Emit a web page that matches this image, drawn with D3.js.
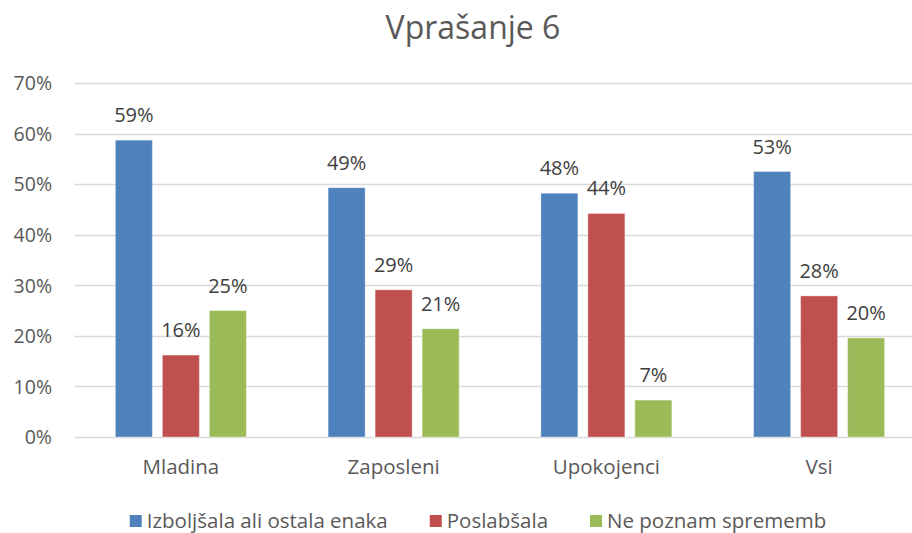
<!DOCTYPE html>
<html>
<head>
<meta charset="utf-8">
<script src="https://cdn.jsdelivr.net/npm/d3@7"></script>
<style>
  html, body { margin: 0; padding: 0; background: #fff; }
  svg { display: block; font-family: "Open Sans", Lato, sans-serif; }
</style>
</head>
<body>
<svg id="chart" width="912" height="533"></svg>
<script>
// chart data
const categories = ["Mladina", "Zaposleni", "Upokojenci", "Vsi"];
const seriesNames = ["Izboljšala ali ostala enaka", "Poslabšala", "Ne poznam sprememb"];
const improved = [0.587, 0.493, 0.482, 0.525];
const worse = [0.162, 0.291, 0.442, 0.279];
const unknown = [0.250, 0.214, 0.073, 0.196];
const yTicks = [0, 0.1, 0.2, 0.3, 0.4, 0.5, 0.6, 0.7];

const colors = ["#4F81BD", "#C0504D", "#9BBB59"];
const seriesValues = [improved, worse, unknown];

let width = 912,
    height = 533;

let svg = d3.select("#chart");

let x = d3.scaleBand()
    .domain(categories)
    .range([74.5, 925.5]);

let y = d3.scaleLinear()
    .domain([0, 0.7])
    .range([437, 83]);

let barW = 37, barGap = 10;
let groupW = 3 * barW + 2 * barGap;

let pct = d3.format(".0%");

// title
svg.append("text")
    .attr("x", 473)
    .attr("y", 39)
    .attr("text-anchor", "middle")
    .attr("fill", "#595959")
    .style("font-size", "32px")
    .text("Vprašanje 6");

// gridlines
svg.append("g").selectAll("line")
    .data(yTicks)
    .join("line")
    .attr("x1", 74.5)
    .attr("x2", 925.5)
    .attr("y1", d => Math.round(y(d)) + 0.5)
    .attr("y2", d => Math.round(y(d)) + 0.5)
    .attr("stroke", "#D9D9D9")
    .attr("stroke-width", 1.3);

// y axis labels
let yAxis = d3.axisLeft(y).tickValues(yTicks).tickFormat(pct).tickSize(0).tickPadding(0);
let yg = svg.append("g")
    .attr("transform", "translate(52,0)")
    .call(yAxis);
yg.select(".domain").remove();
yg.selectAll("text")
    .attr("fill", "#595959")
    .attr("dy", "0.35em")
    .style("font-family", "'Open Sans', Lato, sans-serif")
    .style("font-size", "19.5px");

// bars
let rows = [];
categories.forEach((c, i) => {
    seriesValues.forEach((vals, s) => {
        rows.push({cat: c, s: s, v: vals[i]});
    });
});

function barX(d) {
    return x(d.cat) + (x.bandwidth() - groupW) / 2 + d.s * (barW + barGap);
}

svg.append("g").selectAll("rect")
    .data(rows)
    .join("rect")
    .attr("x", d => barX(d))
    .attr("y", d => y(d.v))
    .attr("width", barW)
    .attr("height", d => y(0) - y(d.v))
    .attr("fill", d => colors[d.s])
    .attr("stroke", "#fff")
    .attr("stroke-opacity", 0.35)
    .attr("stroke-width", 1);

// data labels
svg.append("g").selectAll("text")
    .data(rows)
    .join("text")
    .attr("x", d => barX(d) + barW / 2)
    .attr("y", d => y(d.v) - 18)
    .attr("text-anchor", "middle")
    .attr("fill", "#404040")
    .style("font-size", "20px")
    .text(d => pct(d.v));

// category labels
svg.append("g").selectAll("text")
    .data(categories)
    .join("text")
    .attr("x", d => x(d) + x.bandwidth() / 2)
    .attr("y", 474)
    .attr("text-anchor", "middle")
    .attr("fill", "#595959")
    .style("font-size", "20.5px")
    .text(d => d);

// legend
let legend = svg.append("g");
let items = legend.selectAll("g")
    .data(seriesNames)
    .join("g");
items.append("rect")
    .attr("width", 12)
    .attr("height", 12)
    .attr("y", 515)
    .attr("fill", (d, i) => colors[i]);
items.append("text")
    .attr("x", 17)
    .attr("y", 528)
    .attr("fill", "#595959")
    .style("font-size", "20.5px")
    .text(d => d);

let offsets = [], total = 0;
items.each(function(d, i) {
    let w = 17 + d3.select(this).select("text").node().getComputedTextLength();
    offsets.push(total);
    total += w + (i < seriesNames.length - 1 ? 42 : 0);
});
let start = 478 - total / 2;
items.attr("transform", (d, i) => `translate(${start + offsets[i]},0)`);
</script>
</body>
</html>
